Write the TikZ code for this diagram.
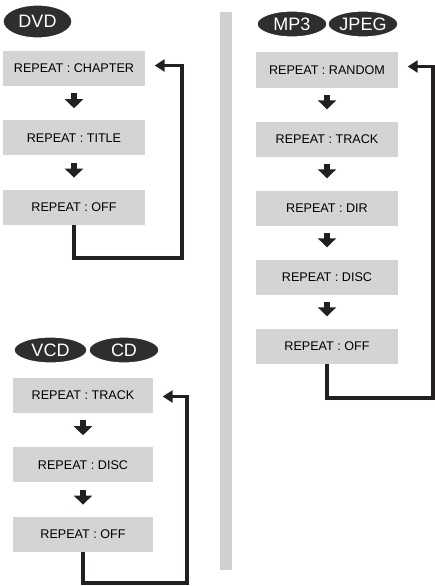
\documentclass[tikz,border=0pt]{standalone}
\usepackage{fontspec}
\setmainfont{Liberation Sans}
\usepackage{xcolor}
\usepackage{tikz}
\usetikzlibrary{positioning, arrows.meta, shapes.geometric, calc}
\definecolor{ink}{HTML}{231F20}
\definecolor{boxgray}{HTML}{D3D4D6}
\definecolor{sepgray}{HTML}{D0D0D0}
\definecolor{badge}{HTML}{2E2E2E}

\begin{document}
\begin{tikzpicture}[x=1pt,y=-1pt,
  modebox/.style={fill=boxgray,minimum width=142pt,minimum height=35pt,
                  inner sep=0pt,font=\fontsize{12.6}{14}\selectfont},
  disc/.style={ellipse,fill=badge,draw=white,line width=1.2pt,text=white,
               minimum width=70pt,minimum height=26pt,inner sep=0pt,
               font=\fontsize{18}{18}\selectfont},
  stepdown/.style={draw=ink,line width=6pt,shorten <=7pt,shorten >=12pt,
                   -{Triangle[width=18pt,length=9pt]}},
  backloop/.style={draw=ink,line width=3.3pt,shorten >=9.5pt,
                   -{Triangle[width=12pt,length=10pt]}}]
  \useasboundingbox (0,0) rectangle (435,586);
  \fill[sepgray] (220,12) rectangle (232,570);

  \node[disc,minimum width=69pt,minimum height=33pt] (DVD) at (37.5,21.5) {DVD};
  \node[modebox] (dC) at (74,68.5) {REPEAT : CHAPTER};
  \node[modebox, below=34pt of dC] (dT) {REPEAT : TITLE};
  \node[modebox, below=34pt of dT] (dO) {REPEAT : OFF};
  \coordinate (dTurn) at (182,258);

  \node[disc] (MP3) at (292,24) {MP3};
  \node[disc] (JPEG) at (363,24) {JPEG};
  \node[modebox] (mR) at (327,70) {REPEAT : RANDOM};
  \node[modebox, below=33.6pt of mR] (mT) {REPEAT : TRACK};
  \node[modebox, below=33.6pt of mT] (mD) {REPEAT : DIR};
  \node[modebox, below=33.6pt of mD] (mS) {REPEAT : DISC};
  \node[modebox, below=33.6pt of mS] (mO) {REPEAT : OFF};
  \coordinate (mTurn) at (433,398);

  \node[disc,minimum width=73pt] (VCD) at (50.5,350) {VCD};
  \node[disc] (CD) at (124,350) {CD};
  \node[modebox,minimum width=140pt] (vT) at (83,395.5) {REPEAT : TRACK};
  \node[modebox,minimum width=140pt, below=34pt of vT] (vD) {REPEAT : DISC};
  \node[modebox,minimum width=140pt, below=34pt of vD] (vO) {REPEAT : OFF};
  \coordinate (vTurn) at (187,583);

  \path (dC) edge[stepdown] (dT)
        (dT) edge[stepdown] (dO)
        (mR) edge[stepdown] (mT)
        (mT) edge[stepdown] (mD)
        (mD) edge[stepdown] (mS)
        (mS) edge[stepdown] (mO)
        (vT) edge[stepdown] (vD)
        (vD) edge[stepdown] (vO);
  \draw[backloop] (dO.south) |- (dTurn) |- ([yshift=3pt]dC.east);
  \draw[backloop] (mO.south) |- (mTurn) |- ([yshift=3.5pt]mR.east);
  \draw[backloop] (vO.south) |- (vTurn) |- ([yshift=-1pt]vT.east);
\end{tikzpicture}
\end{document}
